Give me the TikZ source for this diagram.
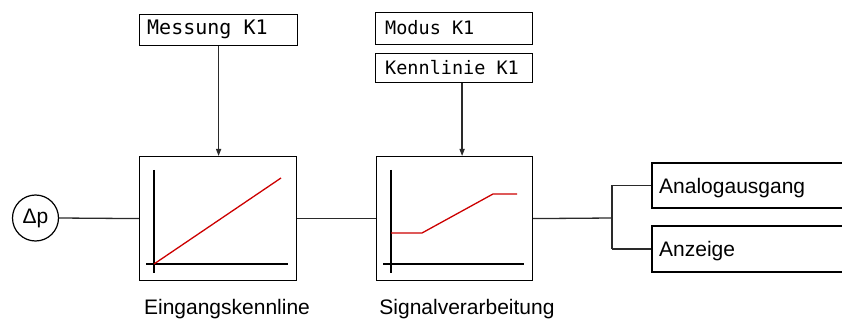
\documentclass[tikz,border=0pt]{standalone}
\usepackage{fontspec}
\setmainfont{Liberation Sans}
\newfontfamily\lcdfont{DejaVu Sans Mono}
\usetikzlibrary{arrows.meta}
\definecolor{linegray}{HTML}{2A2A2A}
\definecolor{curvered}{HTML}{CC0000}
\tikzset{
  conn/.style={draw=linegray, line width=1.3pt},
  arr/.style={conn, -{Triangle[length=7pt,width=5pt]}},
  parambox/.style={draw=black, line width=1.2pt, minimum height=31pt, anchor=north west, inner sep=0pt},
  blockbox/.style={draw=black, line width=1.2pt, minimum width=157pt, minimum height=124pt, anchor=north west, inner sep=0pt},
  lcd/.style={font=\lcdfont\fontsize{18.5}{20}\selectfont, anchor=west, inner sep=0pt},
  lbl/.style={font=\fontsize{21}{24}\selectfont, inner sep=0pt},
  axis/.style={draw=black, line width=2.5pt},
  curve/.style={draw=curvered, line width=1.3pt},
}
\begin{document}
\begin{tikzpicture}[x=1pt, y=-1pt]
\useasboundingbox (0,0) rectangle (842,320);
% parameter boxes
\node[parambox, minimum width=158pt] (mess) at (139,14) {};
\node[lcd, font=\lcdfont\fontsize{20}{22}\selectfont] (messt) at (147,29.5) {Messung K1};
\node[parambox, minimum width=157pt, minimum height=32pt] (modus) at (375,12) {};
\node[lcd] (modust) at (385,28) {Modus K1};
\node[parambox, minimum width=157pt, minimum height=29pt] (kenn) at (375,53) {};
\node[lcd] (kennt) at (385,67.5) {Kennlinie K1};
% main blocks
\node[blockbox] (b1) at (139,156) {};
\node[blockbox, minimum width=156pt] (b2) at (376,156) {};
% input
\node[draw=black, line width=1.2pt, circle, minimum size=46pt, inner sep=0pt, font=\fontsize{21}{24}\selectfont] (dp) at (35.5,218) {Δp};
% graph 1
\coordinate (o1) at (154,264);
\draw[axis] (154,170) -- (154,273);
\draw[axis] (146,264) -- (288,264);
\draw[curve] (o1) -- (281,178);
% graph 2
\draw[axis] (391,170) -- (391,273);
\draw[axis] (383,264) -- (524,264);
\draw[curve] (391,233) -- (422,233) -- (493,194) -- (517,194);
% connectors
\draw[conn] (dp.east) -- (b1.west);
\draw[conn] (b1.east) -- (b2.west);
\draw[arr] (mess.south) -- (mess.south |- b1.north);
\draw[arr] ([xshift=8pt]kenn.south) -- ([xshift=8pt]kenn.south |- b2.north);
% outputs
\coordinate (J) at (612,218);
\coordinate (anaL) at (652,185.5);
\coordinate (anzL) at (652,249);
\draw[conn] (b2.east) -- (J);
\draw[conn] (J |- anaL) -- (J |- anzL);
\draw[conn] (J |- anaL) -- (anaL);
\draw[conn] (J |- anzL) -- (anzL);
\begin{scope}
\clip (0,0) rectangle (842,320);
\draw[draw=black, line width=1.2pt] (860,163) -- (652,163) -- (652,208) -- (860,208);
\draw[draw=black, line width=1.2pt] (860,226) -- (652,226) -- (652,272) -- (860,272);
\end{scope}
\node[lbl, anchor=base west] (ana) at (659,194) {Analogausgang};
\node[lbl, anchor=base west] (anz) at (659,256) {Anzeige};
% captions
\node[lbl, anchor=base] (cap1) at (227,314) {Eingangskennline};
\node[lbl, anchor=base] (cap2) at (467,314) {Signalverarbeitung};
\end{tikzpicture}
\end{document}
